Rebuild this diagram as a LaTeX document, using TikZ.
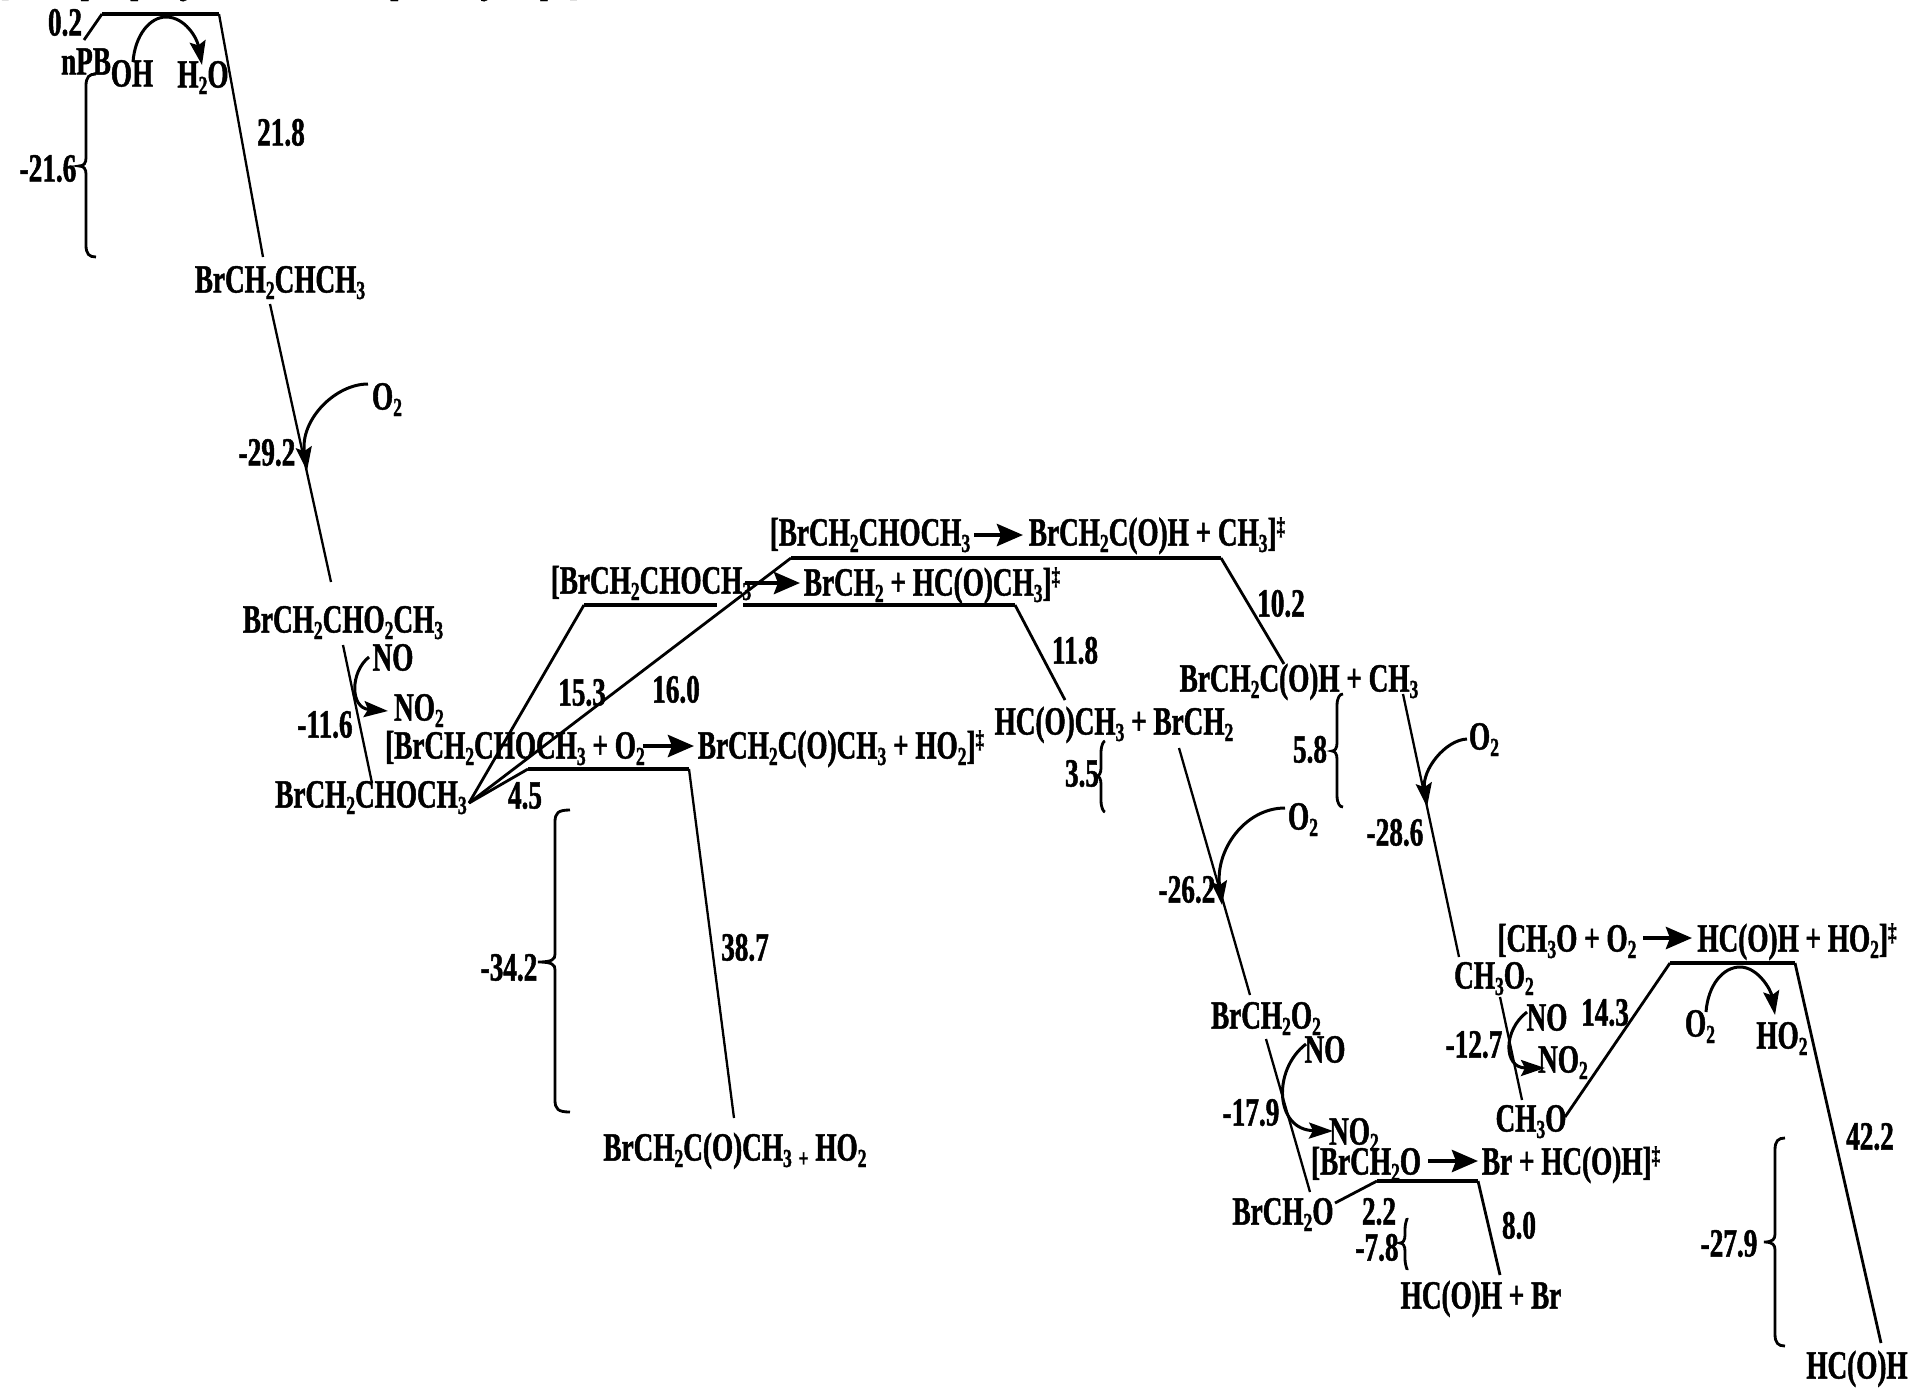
\documentclass[tikz,border=0pt]{standalone}
\usepackage{fontspec}
\setmainfont{Liberation Serif}[FakeStretch=0.68,BoldFeatures={FakeBold=1.2}]
\usetikzlibrary{arrows.meta}
\newcommand\sbb[1]{\raisebox{-6.5pt}{\fontsize{26}{26}\selectfont #1}}
\newcommand\spp[1]{\raisebox{11pt}{\fontsize{25}{25}\selectfont #1}}
\newcommand\bracepath[6]{% x, xtip, xend, top, tip, bottom
  \draw[bracel] (#3,#4) .. controls ({#1+3},#4) and (#1,{#4+3}) .. (#1,{#4+12})
    -- (#1,{#5-8}) .. controls (#1,{#5-3}) and ({#1-2},#5) .. (#2,#5)
    .. controls ({#1-2},#5) and (#1,{#5+3}) .. (#1,{#5+8})
    -- (#1,{#6-12}) .. controls (#1,{#6-3}) and ({#1+3},#6) .. (#3,#6);}
\tikzset{
  lab/.style={inner sep=0pt,outer sep=0pt,font=\fontsize{40}{40}\selectfont\bfseries,text=black,anchor=center,text height=26pt,text depth=1pt},
  thinl/.style={draw=black,line width=2.3pt},
  thickl/.style={draw=black,line width=4.2pt,line join=miter},
  medl/.style={draw=black,line width=2.8pt},
  curv/.style={draw=black,line width=3pt,-{Stealth[length=24pt,width=16pt,inset=4pt]}},
  rxn/.style={draw=black,line width=4.4pt,-{Stealth[length=26pt,width=22pt,inset=4pt]}},
  bracel/.style={draw=black,line width=2.8pt}
}
\begin{document}
\begin{tikzpicture}[x=1pt,y=-1pt]
\useasboundingbox (0,0) rectangle (1909,1390);
% clipped header
\node[lab] (t1) at (130,-18) {[BrCH\sbb{2}CH\sbb{2}CH\sbb{3} + OH};
\node[lab] (t2) at (453,-18) {BrCH\sbb{2}CHCH\sbb{3} + H\sbb{2}O]\spp{‡}};
% labels
\node[lab] (n02) at (65,23) {0.2};
\node[lab] (npb) at (86,62) {nPB};
\node[lab] (oh) at (132,74) {OH};
\node[lab] (h2o) at (203,75) {H\sbb{2}O};
\node[lab] (n218) at (281,133) {21.8};
\node[lab] (n216) at (48,169) {-21.6};
\node[lab] (r1) at (280,280) {BrCH\sbb{2}CHCH\sbb{3}};
\node[lab] (o2a) at (387,397) {O\sbb{2}};
\node[lab] (n292) at (267,453) {-29.2};
\node[lab] (r2) at (343,620) {BrCH\sbb{2}CHO\sbb{2}CH\sbb{3}};
\node[lab] (noa) at (393,658) {NO};
\node[lab] (no2a) at (419,708) {NO\sbb{2}};
\node[lab] (n116) at (325,725) {-11.6};
\node[lab] (r3) at (371,795) {BrCH\sbb{2}CHOCH\sbb{3}};
\node[lab] (n45) at (525,796) {4.5};
\node[lab] (n153) at (582,693) {15.3};
\node[lab] (n160) at (676,690) {16.0};
\node[lab] (ts3a) at (515,746) {[BrCH\sbb{2}CHOCH\sbb{3} + O\sbb{2}};
\node[lab] (ts3b) at (841,746) {BrCH\sbb{2}C(O)CH\sbb{3} + HO\sbb{2}]\spp{‡}};
\node[lab] (ts2a) at (651,581) {[BrCH\sbb{2}CHOCH\sbb{3}};
\node[lab] (ts2b) at (932,583) {BrCH\sbb{2} + HC(O)CH\sbb{3}]\spp{‡}};
\node[lab] (ts1a) at (870,533) {[BrCH\sbb{2}CHOCH\sbb{3}};
\node[lab] (ts1b) at (1157,533) {BrCH\sbb{2}C(O)H + CH\sbb{3}]\spp{‡}};
\node[lab] (p2) at (1114,722) {HC(O)CH\sbb{3} + BrCH\sbb{2}};
\node[lab] (n118) at (1075,651) {11.8};
\node[lab] (n102) at (1281,604) {10.2};
\node[lab] (p1) at (1299,679) {BrCH\sbb{2}C(O)H + CH\sbb{3}};
\node[lab] (n58) at (1310,750) {5.8};
\node[lab] (o2b) at (1484,737) {O\sbb{2}};
\node[lab] (n286) at (1395,833) {-28.6};
\node[lab] (n35) at (1082,774) {3.5};
\node[lab] (o2c) at (1303,817) {O\sbb{2}};
\node[lab] (n262) at (1187,890) {-26.2};
\node[lab] (n342) at (509,968) {-34.2};
\node[lab] (n387) at (745,948) {38.7};
\node[lab] (p3) at (735,1148) {BrCH\sbb{2}C(O)CH\sbb{3}\,\sbb{+} HO\sbb{2}};
\node[lab] (ts4a) at (1567,939) {[CH\sbb{3}O + O\sbb{2}};
\node[lab] (ts4b) at (1797,939) {HC(O)H + HO\sbb{2}]\spp{‡}};
\node[lab] (o2d) at (1700,1024) {O\sbb{2}};
\node[lab] (ho2) at (1782,1036) {HO\sbb{2}};
\node[lab] (n143) at (1605,1013) {14.3};
\node[lab] (m1) at (1494,976) {CH\sbb{3}O\sbb{2}};
\node[lab] (nob) at (1547,1018) {NO};
\node[lab] (no2b) at (1563,1060) {NO\sbb{2}};
\node[lab] (n127) at (1474,1045) {-12.7};
\node[lab] (m2) at (1531,1119) {CH\sbb{3}O};
\node[lab] (b1) at (1266,1016) {BrCH\sbb{2}O\sbb{2}};
\node[lab] (noc) at (1325,1050) {NO};
\node[lab] (no2c) at (1354,1132) {NO\sbb{2}};
\node[lab] (n179) at (1251,1113) {-17.9};
\node[lab] (ts5a) at (1366,1162) {[BrCH\sbb{2}O};
\node[lab] (ts5b) at (1571,1162) {Br + HC(O)H]\spp{‡}};
\node[lab] (b2) at (1283,1212) {BrCH\sbb{2}O};
\node[lab] (n22) at (1379,1212) {2.2};
\node[lab] (n78) at (1377,1248) {-7.8};
\node[lab] (n80) at (1519,1226) {8.0};
\node[lab] (p4) at (1481,1296) {HC(O)H + Br};
\node[lab] (n279) at (1729,1244) {-27.9};
\node[lab] (n422) at (1870,1137) {42.2};
\node[lab] (p5) at (1857,1366) {HC(O)H};
% named line points
\coordinate (a0) at (84,40); \coordinate (a1) at (102,14); \coordinate (a2) at (219,14); \coordinate (a3) at (263,257);
\coordinate (c1) at (270,304); \coordinate (c2) at (331,582);
\coordinate (c3) at (343,645); \coordinate (c4) at (372,783);
\coordinate (s0) at (469,803);
\coordinate (d1) at (528,769); \coordinate (d2) at (689,769); \coordinate (d3) at (734,1118);
\coordinate (e1) at (584,605); \coordinate (e2) at (717,605); \coordinate (e3) at (743,605); \coordinate (e4) at (1015,605); \coordinate (e5) at (1065,700);
\coordinate (f1) at (791,558); \coordinate (f2) at (1221,558); \coordinate (f3) at (1284,664);
\coordinate (g1) at (1403,694); \coordinate (g2) at (1459,957);
\coordinate (h1) at (1179,748); \coordinate (h2) at (1250,995);
\coordinate (i1) at (1500,997); \coordinate (i2) at (1522,1100);
\coordinate (j0) at (1565,1117); \coordinate (j1) at (1670,963); \coordinate (j2) at (1795,963); \coordinate (j3) at (1881,1343);
\coordinate (k1) at (1266,1039); \coordinate (k2) at (1310,1192);
\coordinate (l0) at (1335,1203); \coordinate (l1) at (1377,1181); \coordinate (l2) at (1478,1181); \coordinate (l3) at (1500,1275);
% energy profile
\draw[medl] (a0) -- (a1);
\draw[thickl] (a1) -- (a2);
\draw[thinl] (a2) -- (a3);
\draw[thinl] (c1) -- (c2);
\draw[thinl] (c3) -- (c4);
\draw[medl] (s0) -- (d1); \draw[thickl] (d1) -- (d2); \draw[thinl] (d2) -- (d3);
\draw[medl] (s0) -- (e1); \draw[thickl] (e1) -- (e2); \draw[thickl] (e3) -- (e4); \draw[medl] (e4) -- (e5);
\draw[medl] (s0) -- (f1); \draw[thickl] (f1) -- (f2); \draw[medl] (f2) -- (f3);
\draw[thinl] (g1) -- (g2);
\draw[thinl] (h1) -- (h2);
\draw[thinl] (i1) -- (i2);
\draw[medl] (j0) -- (j1); \draw[thickl] (j1) -- (j2); \draw[medl] (j2) -- (j3);
\draw[thinl] (k1) -- (k2);
\draw[medl] (l0) -- (l1); \draw[thickl] (l1) -- (l2); \draw[medl] (l2) -- (l3);
% curved arrows
\coordinate (u1) at (133,62); \coordinate (u2) at (202,65);
\draw[curv] (u1) .. controls (135,35) and (150,17) .. (166,17) .. controls (185,17) and (197,38) .. (u2);
\coordinate (u3) at (368,384); \coordinate (u4) at (307,471);
\draw[curv] (u3) .. controls (335,384) and (300,420) .. (u4);
\coordinate (u5) at (369,657); \coordinate (u6) at (388,711);
\draw[curv] (u5) .. controls (350,672) and (350,708) .. (u6);
\coordinate (u7) at (1467,739); \coordinate (u8) at (1427,807);
\draw[curv] (u7) .. controls (1445,740) and (1422,770) .. (u8);
\coordinate (u9) at (1285,808); \coordinate (u10) at (1222,905);
\draw[curv] (u9) .. controls (1245,808) and (1215,850) .. (u10);
\coordinate (u11) at (1706,1012); \coordinate (u12) at (1775,1015);
\draw[curv] (u11) .. controls (1708,985) and (1723,967) .. (1740,967) .. controls (1758,967) and (1771,990) .. (u12);
\coordinate (u13) at (1527,1012); \coordinate (u14) at (1545,1068);
\draw[curv] (u13) .. controls (1503,1030) and (1503,1068) .. (u14);
\coordinate (u15) at (1306,1044); \coordinate (u16) at (1333,1131);
\draw[curv] (u15) .. controls (1272,1070) and (1275,1130) .. (u16);
% reaction arrows
\coordinate (v1) at (643,746); \coordinate (v2) at (694,746);
\draw[rxn] (v1) -- (v2);
\coordinate (v3) at (745,583); \coordinate (v4) at (800,583);
\draw[rxn] (v3) -- (v4);
\coordinate (v5) at (974,535); \coordinate (v6) at (1023,535);
\draw[rxn] (v5) -- (v6);
\coordinate (v7) at (1643,938); \coordinate (v8) at (1692,938);
\draw[rxn] (v7) -- (v8);
\coordinate (v9) at (1428,1161); \coordinate (v10) at (1478,1161);
\draw[rxn] (v9) -- (v10);
% braces
\bracepath{86}{79}{96}{74}{166}{257}
\bracepath{555}{538}{570}{810}{962}{1112}
\bracepath{1337}{1332}{1343}{694}{751}{807}
\bracepath{1101}{1097}{1105}{741}{776}{812}
\bracepath{1405}{1400}{1407}{1218}{1243}{1270}
\bracepath{1775}{1764}{1785}{1138}{1242}{1346}
\end{tikzpicture}
\end{document}
